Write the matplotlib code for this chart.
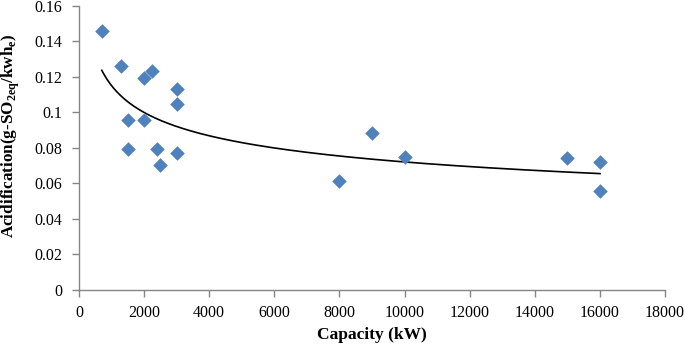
import matplotlib
matplotlib.use("Agg")
import matplotlib.pyplot as plt
import numpy as np

plt.rcParams['font.family'] = ['Liberation Serif', 'DejaVu Serif']
plt.rcParams['mathtext.fontset'] = 'custom'
plt.rcParams['mathtext.rm'] = 'Liberation Serif'
plt.rcParams['mathtext.bf'] = 'Liberation Serif:bold'

# capacity (kW) and acidification (g-SO2eq/kWh_e)
capacity = [700, 1300, 2250, 2000, 3000, 3000, 1500, 2000, 1500, 2400, 3000, 2500,
            8000, 9000, 10000, 15000, 16000, 16000]
acidification = [0.146, 0.126, 0.1235, 0.1195, 0.113, 0.1048, 0.0958, 0.0955,
                 0.0794, 0.0794, 0.0772, 0.0704,
                 0.0612, 0.0883, 0.0751, 0.0744, 0.0723, 0.0556]

x_ticks = [0, 2000, 4000, 6000, 8000, 10000, 12000, 14000, 16000, 18000]
y_ticks = [0, 0.02, 0.04, 0.06, 0.08, 0.1, 0.12, 0.14, 0.16]
y_tick_labels = ['0', '0.02', '0.04', '0.06', '0.08', '0.1', '0.12', '0.14', '0.16']

# power-law trendline (Excel style: linear fit in log-log space)
cap = np.array(capacity, dtype=float)
aci = np.array(acidification, dtype=float)
b, log_a = np.polyfit(np.log(cap), np.log(aci), 1)
x_fit = np.linspace(cap.min(), cap.max(), 300)
y_fit = np.exp(log_a) * x_fit ** b

fig = plt.figure(figsize=(6.85, 3.44), dpi=100)
ax = fig.add_axes([0.1153, 0.157, 0.8557, 0.8256])

ax.plot(x_fit, y_fit, color='black', linewidth=1.2, zorder=2)
ax.scatter(capacity, acidification, marker='D', s=55, color='#4F81BD',
           linewidths=0, zorder=3)

ax.set_xlim(0, 18000)
ax.set_ylim(0, 0.16)
ax.set_xticks(x_ticks)
ax.set_xticklabels([str(t) for t in x_ticks])
ax.set_yticks(y_ticks)
ax.set_yticklabels(y_tick_labels)

for side in ['top', 'right']:
    ax.spines[side].set_visible(False)
for side in ['left', 'bottom']:
    ax.spines[side].set_color('#868686')
    ax.spines[side].set_linewidth(1.0)
ax.tick_params(axis='both', colors='#868686', labelcolor='black',
               labelsize=11.5, length=5, width=1.0, direction='out')
ax.tick_params(axis='y', pad=7)
ax.tick_params(axis='x', pad=6)

ax.set_xlabel('Capacity (kW)', fontsize=12.5, fontweight='bold', labelpad=4)
ax.set_ylabel(r'Acidification(g-SO$_{\mathbf{2eq}}$/kwh$_{\mathbf{e}}$)',
              fontsize=12.3, fontweight='bold')
ax.yaxis.set_label_coords(-0.098, 0.545)

fig.savefig('out.png', dpi=100)
